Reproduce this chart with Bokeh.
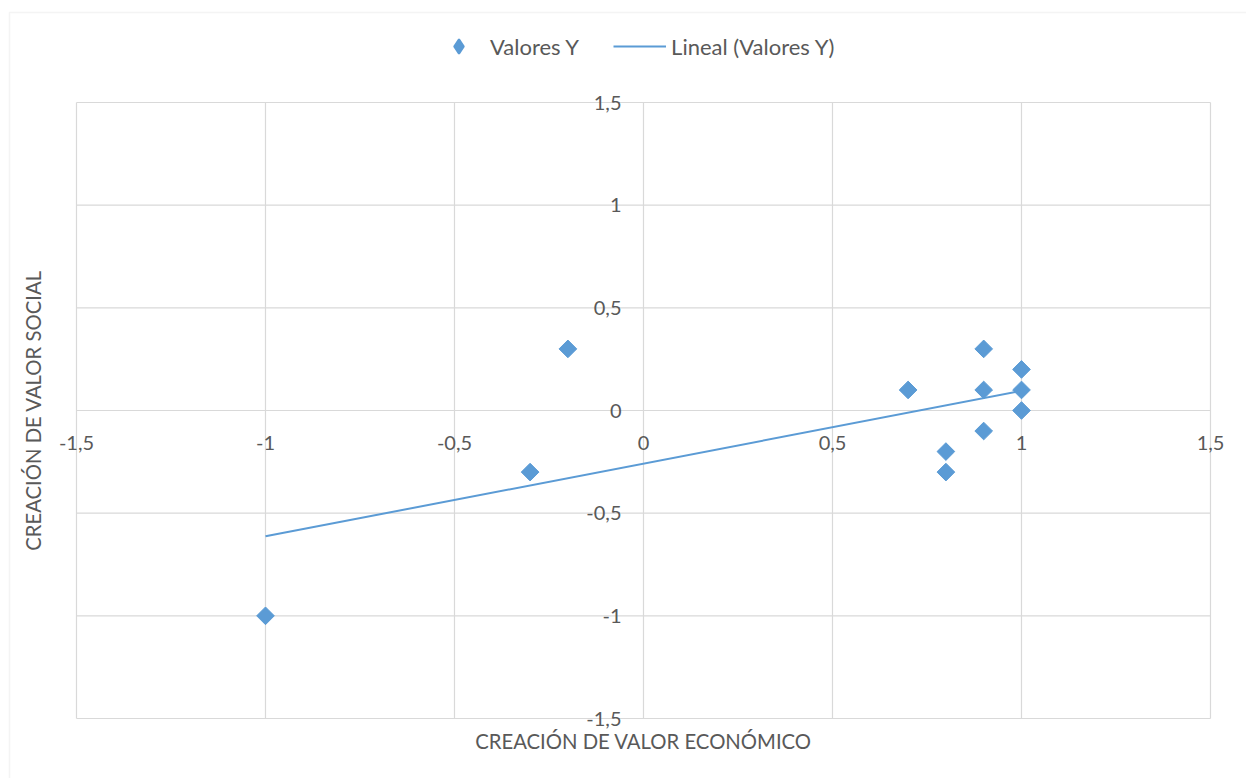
import numpy as np
from bokeh.plotting import figure
from bokeh.models import (Legend, LegendItem, Range1d, BoxAnnotation, Label)
from bokeh.core.properties import value
from bokeh.embed import file_html
from bokeh.resources import INLINE

# ---- data ----
x_vals = [-1.0, -0.3, -0.2, 0.7, 0.8, 0.8, 0.9, 0.9, 0.9, 1.0, 1.0, 1.0]
y_vals = [-1.0, -0.3, 0.3, 0.1, -0.2, -0.3, 0.3, 0.1, -0.1, 0.2, 0.1, 0.0]
tick_values = [-1.5, -1.0, -0.5, 0.0, 0.5, 1.0, 1.5]
tick_labels = ["-1,5", "-1", "-0,5", "0", "0,5", "1", "1,5"]
series_name = "Valores Y"
trend_name = "Lineal (Valores Y)"
x_title = "CREACIÓN DE VALOR ECONÓMICO"
y_title = "CREACIÓN DE VALOR SOCIAL"

# linear trend line (least squares, like Excel's "Lineal")
slope, intercept = np.polyfit(x_vals, y_vals, 1)
trend_x = [min(x_vals), max(x_vals)]
trend_y = [slope * v + intercept for v in trend_x]

FONT = "Lato"
TXT = "#595959"
GRID = "#d9d9d9"
BLUE = "#5B9BD5"

# ---- layout: the whole canvas is the frame; plot area spans px 76..1210 x 102..718
W, H = 1246, 778
PL, PR, PT, PB = 76, 1210, 102, 718
lo, hi = tick_values[0], tick_values[-1]
sx = (PR - PL) / (hi - lo)
sy = (PB - PT) / (hi - lo)
x_range = Range1d(lo - PL / sx, hi + (W - PR) / sx)
y_range = Range1d(lo - (H - PB) / sy, hi + PT / sy)

p = figure(width=W, height=H, output_backend="svg", toolbar_location=None,
           x_range=x_range, y_range=y_range, min_border=0)
p.axis.visible = False
p.grid.visible = False
p.outline_line_color = None
p.background_fill_color = "white"
p.border_fill_color = "white"

# outer chart border
p.add_layout(BoxAnnotation(left=9, right=W + 20, top=12, bottom=H + 20,
                           left_units="canvas", right_units="canvas",
                           top_units="canvas", bottom_units="canvas",
                           fill_color=None, line_color=GRID, line_width=1.5))

# gridlines (incl. plot-area border) at the tick values
n = len(tick_values)
p.segment(x0=tick_values, x1=tick_values, y0=[lo] * n, y1=[hi] * n,
          line_color=GRID, line_width=1.2)
p.segment(x0=[lo] * n, x1=[hi] * n, y0=tick_values, y1=tick_values,
          line_color=GRID, line_width=1.2)

# tick labels on the axes that cross at 0
p.text(x=tick_values, y=[0.0] * n, text=tick_labels, y_offset=32,
       text_align="center", text_baseline="middle",
       text_font=value(FONT), text_font_size="20px", text_color=TXT)
p.text(x=[0.0] * n, y=tick_values, text=tick_labels, x_offset=-22,
       text_align="right", text_baseline="middle",
       text_font=value(FONT), text_font_size="20px", text_color=TXT)

# axis titles
p.add_layout(Label(x=0.0, y=H - 740, y_units="screen", text=x_title,
                   text_align="center", text_baseline="middle",
                   text_font=FONT, text_font_size="20.3px", text_color=TXT))
p.add_layout(Label(x=32, x_units="screen", y=0.0, text=y_title, angle=np.pi / 2,
                   text_align="center", text_baseline="middle",
                   text_font=FONT, text_font_size="20.3px", text_color=TXT))

r_line = p.line(trend_x, trend_y, line_color=BLUE, line_width=2)
r_pts = p.scatter(x_vals, y_vals, marker="square", angle=np.pi / 4, size=12.5,
                  fill_color=BLUE, line_color=BLUE)
# legend proxy with a diamond marker (legend glyphs ignore angle); not drawn in the plot
r_proxy = p.scatter([np.nan], [np.nan], marker="diamond", fill_color=BLUE,
                    line_color=BLUE, line_width=2)

legend = Legend(items=[LegendItem(label=series_name, renderers=[r_proxy]),
                       LegendItem(label=trend_name, renderers=[r_line])],
                orientation="horizontal", location=(432, H - 64),
                border_line_color=None, background_fill_alpha=0,
                padding=5, margin=0,
                glyph_width=53, glyph_height=36, label_standoff=5, spacing=34,
                label_text_font=FONT, label_text_font_size="22px",
                label_text_color=TXT)
p.add_layout(legend, "center")

open("out.html", "w").write(file_html(p, INLINE))
